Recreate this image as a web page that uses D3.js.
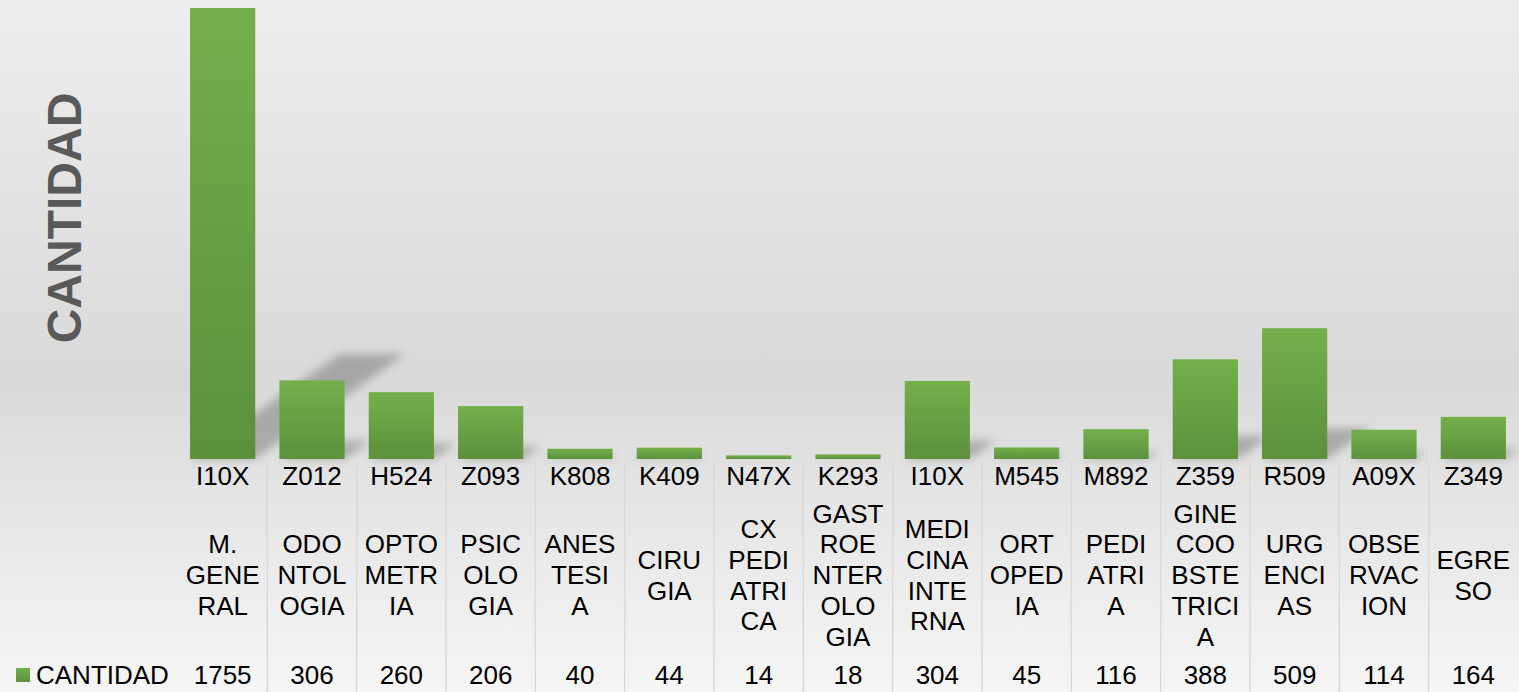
<!DOCTYPE html>
<html>
<head>
<meta charset="utf-8">
<script src="https://cdn.jsdelivr.net/npm/d3@7"></script>
<style>
  html, body { margin: 0; padding: 0; background: #e6e6e6; }
  svg { display: block; font-family: "Liberation Sans", Arial, sans-serif; }
</style>
</head>
<body>
<svg width="1519" height="692"></svg>
<script>
// chart data
const codes = ["I10X", "Z012", "H524", "Z093", "K808", "K409", "N47X", "K293", "I10X", "M545", "M892", "Z359", "R509", "A09X", "Z349"];
const services = [
    ["M.", "GENE", "RAL"],
    ["ODO", "NTOL", "OGIA"],
    ["OPTO", "METR", "IA"],
    ["PSIC", "OLO", "GIA"],
    ["ANES", "TESI", "A"],
    ["CIRU", "GIA"],
    ["CX", "PEDI", "ATRI", "CA"],
    ["GAST", "ROE", "NTER", "OLO", "GIA"],
    ["MEDI", "CINA", "INTE", "RNA"],
    ["ORT", "OPED", "IA"],
    ["PEDI", "ATRI", "A"],
    ["GINE", "COO", "BSTE", "TRICI", "A"],
    ["URG", "ENCI", "AS"],
    ["OBSE", "RVAC", "ION"],
    ["EGRE", "SO"]
];
const cantidad = [1755, 306, 260, 206, 40, 44, 14, 18, 304, 45, 116, 388, 509, 114, 164];
const seriesName = "CANTIDAD";
const axisTitle = "CANTIDAD";

const width = 1519, height = 692;
const svg = d3.select("svg");
const defs = svg.append("defs");

const plotLeft = 178, plotRight = 1518, baseY = 459, topY = 8;

const x = d3.scaleBand().domain(d3.range(codes.length)).range([plotLeft, plotRight])
    .paddingInner(0.27).paddingOuter(0.135);
const y = d3.scaleLinear().domain([0, d3.max(cantidad)]).range([baseY, topY]);
const step = x.step();
const colX = i => plotLeft + step * i + step / 2;

// gradients and shadow blur
function setupDefs() {
    const bg = defs.append("linearGradient").attr("id", "bg").attr("x1", 0).attr("y1", 0).attr("x2", 0).attr("y2", 1);
    bg.append("stop").attr("offset", "0%").attr("stop-color", "#ededed");
    bg.append("stop").attr("offset", "55%").attr("stop-color", "#d9d9d9");
    bg.append("stop").attr("offset", "68%").attr("stop-color", "#e2e2e2");
    bg.append("stop").attr("offset", "100%").attr("stop-color", "#f5f5f5");

    const bar = defs.append("linearGradient").attr("id", "barFill").attr("x1", 0).attr("y1", 0).attr("x2", 0).attr("y2", 1);
    bar.append("stop").attr("offset", "0%").attr("stop-color", "#74af4b");
    bar.append("stop").attr("offset", "100%").attr("stop-color", "#5c903d");

    defs.append("filter").attr("id", "blur").attr("x", "-20%").attr("y", "-20%").attr("width", "140%").attr("height", "140%")
        .append("feGaussianBlur").attr("stdDeviation", 5);
}

function drawBackground() {
    svg.append("rect").attr("width", width).attr("height", height).attr("fill", "url(#bg)");
}

// perspective shadows cast up and to the right
function drawShadows() {
    svg.append("g").attr("filter", "url(#blur)")
        .selectAll("polygon").data(cantidad).enter().append("polygon")
        .attr("points", (d, i) => {
            const x0 = x(i), x1 = x(i) + x.bandwidth();
            const h = baseY - y(d);
            const dx = h * 0.333, dy = h * 0.233;
            return [[x0, baseY], [x1, baseY], [x1 + dx, baseY - dy], [x0 + dx, baseY - dy]].join(" ");
        })
        .attr("fill", "#000").attr("fill-opacity", 0.24);
}

function drawBars() {
    svg.append("g").selectAll("rect").data(cantidad).enter().append("rect")
        .attr("x", (d, i) => x(i))
        .attr("y", d => y(d))
        .attr("width", x.bandwidth())
        .attr("height", d => baseY - y(d))
        .attr("fill", "url(#barFill)");
}

// data table under the bars
function drawTable() {
    const g = svg.append("g");

    g.selectAll(".sep").data(d3.range(1, codes.length)).enter().append("line")
        .attr("class", "sep")
        .attr("x1", i => plotLeft + step * i).attr("x2", i => plotLeft + step * i)
        .attr("y1", 462).attr("y2", height)
        .attr("stroke", "#d9d9d9").attr("stroke-width", 1.5);

    g.selectAll(".code").data(codes).enter().append("text")
        .attr("class", "code")
        .attr("x", (d, i) => colX(i)).attr("y", 476).attr("dy", "0.35em")
        .attr("text-anchor", "middle").style("font-size", "26px").attr("fill", "#000")
        .text(d => d);

    const lineH = 30.8;
    const names = g.selectAll(".name").data(services).enter().append("text")
        .attr("class", "name")
        .attr("text-anchor", "middle").style("font-size", "26px").attr("fill", "#000");
    names.each(function(lines, i) {
        const start = 575 - (lines.length - 1) * lineH / 2;
        d3.select(this).selectAll("tspan").data(lines).enter().append("tspan")
            .attr("x", colX(i)).attr("y", (d, j) => start + j * lineH).attr("dy", "0.35em")
            .text(d => d);
    });

    g.selectAll(".val").data(cantidad).enter().append("text")
        .attr("class", "val")
        .attr("x", (d, i) => colX(i)).attr("y", 674.5).attr("dy", "0.35em")
        .attr("text-anchor", "middle").style("font-size", "26px").attr("fill", "#000")
        .text(d => d);

    // legend key
    g.append("rect").attr("x", 16).attr("y", 668).attr("width", 14).attr("height", 14).attr("fill", "url(#barFill)");
    g.append("text").attr("x", 36).attr("y", 674.5).attr("dy", "0.35em")
        .style("font-size", "26px").attr("fill", "#000").text(seriesName);
}

function drawAxisTitle() {
    svg.append("text")
        .attr("transform", "translate(64,218) rotate(-90)")
        .attr("dy", "0.35em").attr("text-anchor", "middle")
        .style("font-size", "48px").style("font-weight", "bold").attr("fill", "#595959")
        .text(axisTitle);
}

setupDefs();
drawBackground();
drawShadows();
drawBars();
drawTable();
drawAxisTitle();
</script>
</body>
</html>
